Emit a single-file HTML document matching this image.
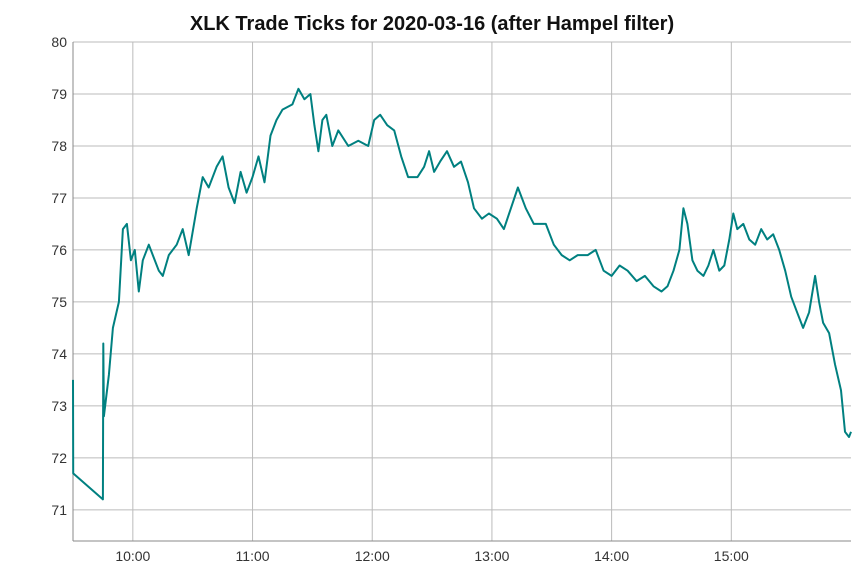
<!DOCTYPE html>
<html><head><meta charset="utf-8"><style>
body{margin:0;background:#fff;font-family:"Liberation Sans",sans-serif}
svg text{font-family:"Liberation Sans",sans-serif}
</style></head><body>
<svg id="chart" width="865" height="574" xmlns="http://www.w3.org/2000/svg">
<text x="432" y="30" text-anchor="middle" font-size="20" font-weight="bold" fill="#111">XLK Trade Ticks for 2020-03-16 (after Hampel filter)</text>
<g id="grid"></g><g id="axes"></g><g id="series"></g>
</svg>
<script>
const minutes=[0,0.1,15,15.2,15.5,18,20,23,25,27,29,31,33,35,38,40,43,45,48,52,55,58,62,65,68,72,75,78,81,84,87,90,93,96,99,102,105,110,113,116,119,121,123,125,127,130,133,138,143,148,151,154,157.5,161,164.5,168,172.7,176,178.5,181,184,187.5,191,194.5,198,201,205,208.5,212.5,216,219.5,223,227,231,237,241,245,249,253,258,262,266,270,274,278,282.5,286.7,291,295,298,301,304,306,308,310.5,313,316,318.5,321,324,326.5,329,331,333,336,339,342,345,348,351,354,357,360,363,366,369,372,374,376,379,382,385,387,389,390];
const prices=[73.5,71.7,71.2,74.2,72.8,73.6,74.5,75.0,76.4,76.5,75.8,76.0,75.2,75.8,76.1,75.9,75.6,75.5,75.9,76.1,76.4,75.9,76.8,77.4,77.2,77.6,77.8,77.2,76.9,77.5,77.1,77.4,77.8,77.3,78.2,78.5,78.7,78.8,79.1,78.9,79.0,78.4,77.9,78.5,78.6,78.0,78.3,78.0,78.1,78.0,78.5,78.6,78.4,78.3,77.8,77.4,77.4,77.6,77.9,77.5,77.7,77.9,77.6,77.7,77.3,76.8,76.6,76.7,76.6,76.4,76.8,77.2,76.8,76.5,76.5,76.1,75.9,75.8,75.9,75.9,76.0,75.6,75.5,75.7,75.6,75.4,75.5,75.3,75.2,75.3,75.6,76.0,76.8,76.5,75.8,75.6,75.5,75.7,76.0,75.6,75.7,76.2,76.7,76.4,76.5,76.2,76.1,76.4,76.2,76.3,76.0,75.6,75.1,74.8,74.5,74.8,75.5,75.0,74.6,74.4,73.8,73.3,72.5,72.4,72.5];
const yTicks=[71,72,73,74,75,76,77,78,79,80];
const xTickLabels=["10:00","11:00","12:00","13:00","14:00","15:00"];
const xTickMinutes=[30,90,150,210,270,330];

const L=73,R=851,T=42,B=541;
const x=m=>L+(m/390)*(R-L);
const y=v=>T+(80-v)/(80-70.4)*(B-T);
const NS="http://www.w3.org/2000/svg";
function mk(tag,attrs,parent){const e=document.createElementNS(NS,tag);for(const k in attrs)e.setAttribute(k,attrs[k]);parent.appendChild(e);return e;}
const grid=document.getElementById('grid'),axes=document.getElementById('axes'),series=document.getElementById('series');
yTicks.forEach(v=>{
  const l=mk('line',{x1:L,x2:R,y1:y(v),y2:y(v),stroke:'#bbb','stroke-width':1},grid);
  
  
  const t=mk('text',{x:L-6,y:y(v)+5,'text-anchor':'end','font-size':14,fill:'#333'},axes);
  t.textContent=v;
  
  
});
xTickMinutes.forEach((m,i)=>{
  const l=mk('line',{x1:x(m),x2:x(m),y1:T,y2:B,stroke:'#bbb','stroke-width':1},grid);
  
  
  const t=mk('text',{x:x(m),y:B+20,'text-anchor':'middle','font-size':14,fill:'#333'},axes);
  t.textContent=xTickLabels[i];
  
  
});
const ya=mk('line',{x1:L,x2:L,y1:T,y2:B,stroke:'#888','stroke-width':1},axes);


const xa=mk('line',{x1:L,x2:R,y1:B,y2:B,stroke:'#888','stroke-width':1},axes);


const d=minutes.map((m,i)=>(i?'L':'M')+x(m).toFixed(1)+','+y(prices[i]).toFixed(1)).join('');
const p=mk('path',{d:d,fill:'none',stroke:'#008080','stroke-width':2,'stroke-linejoin':'round'},series);


</script>
</body></html>
